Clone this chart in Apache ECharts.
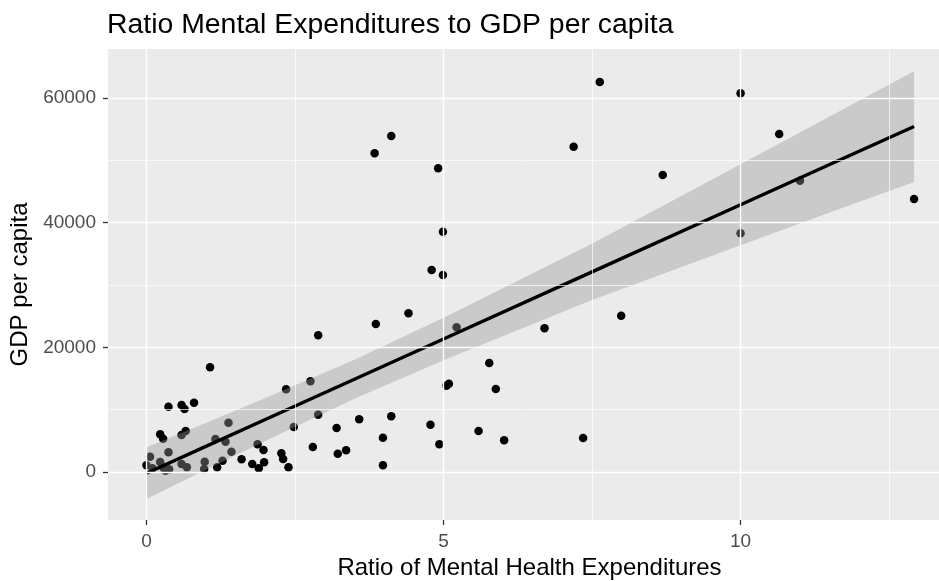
<!DOCTYPE html>
<html>
<head>
<meta charset="utf-8">
<script src="https://cdn.jsdelivr.net/npm/echarts@6/dist/echarts.min.js"></script>
<style>
  html, body { margin: 0; padding: 0; background: #ffffff; }
  #chart { width: 939px; height: 581px; }
</style>
</head>
<body>
<div id="chart"></div>
<script>
// Ratio of mental health expenditures (x) vs GDP per capita (y), one entry per country
const ratio = [
  0.00, 0.06, 0.10, 0.23, 0.28, 0.32, 0.38, 0.23, 0.28, 0.37,
  0.37, 0.59, 0.64, 0.80, 0.59, 0.66, 0.59, 0.68, 0.97, 0.98,
  1.07, 1.16, 1.19, 1.28, 1.33, 1.38, 1.43, 1.60, 1.78, 1.87,
  1.89, 1.97, 1.98, 2.27, 2.30, 2.35, 2.39, 2.48, 2.76, 2.80,
  2.89, 2.89, 3.20, 3.22, 3.36, 3.58, 3.84, 3.86, 3.98, 3.98,
  4.12, 4.12, 4.41, 4.78, 4.80, 4.91, 4.93, 4.99, 4.99, 5.05,
  5.09, 5.22, 5.59, 5.77, 5.88, 6.02, 6.70, 7.19, 7.35, 7.63,
  7.99, 8.69, 10.00, 10.00, 10.65, 11.00, 12.92
];
const gdp = [
  1100, 2460, 590, 1600, 750, 210, 430, 6050, 5340, 3160,
  10480, 10750, 10100, 11120, 5930, 6580, 1280, 750, 480, 1650,
  16790, 5290, 750, 1810, 4860, 7910, 3260, 2040, 1280, 4440,
  590, 3530, 1560, 3000, 2090, 13260, 750, 7220, 14550, 4010,
  21930, 9190, 7060, 2940, 3480, 8450, 51120, 23740, 5510, 1070,
  53890, 8930, 25450, 7590, 32400, 48710, 4440, 38550, 31600, 13850,
  14170, 23210, 6580, 17480, 13310, 5090, 23050, 52180, 5450, 62560,
  25070, 47640, 60740, 38290, 54220, 46730, 43790
];

// Linear fit with its 95% confidence band
const fitX     = [0, 1, 2, 3.5, 5, 7.5, 10, 11.5, 12.92];
const fitY     = [-200, 4110, 8410, 14870, 21330, 32100, 42860, 49320, 55430];
const fitUpper = [3950, 7860, 11860, 18010, 24730, 36600, 49360, 57020, 64300];
const fitLower = [-4350, 360, 4960, 11730, 17930, 27600, 36360, 41620, 46500];

// Axis breaks
const xMajor = [0, 5, 10];
const xMinor = [2.5, 7.5, 12.5];
const yMajor = [0, 20000, 40000, 60000];
const yMinor = [10000, 30000, 50000];

const points = ratio.map((x, i) => [x, gdp[i]]);
const fitLine = fitX.map((x, i) => [x, fitY[i]]);

const gridLines = [
  ...xMinor.map(v => ({ xAxis: v, lineStyle: { width: 0.7 } })),
  ...yMinor.map(v => ({ yAxis: v, lineStyle: { width: 0.7 } })),
  ...xMajor.map(v => ({ xAxis: v, lineStyle: { width: 1.4 } })),
  ...yMajor.map(v => ({ yAxis: v, lineStyle: { width: 1.4 } }))
];

const font = '"Liberation Sans", Arial, sans-serif';

const chart = echarts.init(document.getElementById('chart'), null, { renderer: 'canvas' });

chart.setOption({
  animation: false,
  backgroundColor: '#ffffff',
  title: {
    text: 'Ratio Mental Expenditures to GDP per capita',
    left: 107,
    top: 11,
    padding: 0,
    textStyle: { fontFamily: font, fontSize: 28.4, fontWeight: 'normal', color: '#000000' }
  },
  grid: {
    left: 108, top: 49, width: 831, height: 471,
    outerBoundsMode: 'none',
    containLabel: false,
    show: true, backgroundColor: '#EBEBEB', borderWidth: 0
  },
  xAxis: {
    type: 'value',
    min: -0.648, max: 13.34,
    name: 'Ratio of Mental Health Expenditures',
    nameLocation: 'middle',
    nameGap: 34,
    nameTextStyle: { fontFamily: font, fontSize: 24, color: '#000000', padding: [0, 0, 0, 12] },
    axisLine: { show: false, onZero: false },
    axisTick: { show: true, customValues: xMajor, length: 5, lineStyle: { color: '#333333', width: 1.3 } },
    axisLabel: { customValues: xMajor, margin: 12, fontFamily: font, fontSize: 19, color: '#4D4D4D',
                 formatter: v => String(v) },
    splitLine: { show: false }
  },
  yAxis: {
    type: 'value',
    min: -7700, max: 67850,
    name: 'GDP per capita',
    nameLocation: 'middle',
    nameGap: 72,
    nameRotate: 90,
    nameTextStyle: { fontFamily: font, fontSize: 24, color: '#000000' },
    axisLine: { show: false, onZero: false },
    axisTick: { show: true, customValues: yMajor, length: 5, lineStyle: { color: '#333333', width: 1.3 } },
    axisLabel: { customValues: yMajor, margin: 12, fontFamily: font, fontSize: 19, color: '#4D4D4D',
                 formatter: v => String(v) },
    splitLine: { show: false }
  },
  series: [
    {
      // panel grid lines
      type: 'line',
      data: [],
      z: 1,
      silent: true,
      markLine: {
        silent: true,
        symbol: ['none', 'none'],
        label: { show: false },
        lineStyle: { color: '#FFFFFF', type: 'solid' },
        emphasis: { disabled: true },
        data: gridLines
      }
    },
    {
      type: 'scatter',
      data: points,
      z: 2,
      symbol: 'circle',
      symbolSize: 8.5,
      itemStyle: { color: '#000000', opacity: 1 },
      silent: true
    },
    {
      // confidence band over the points
      type: 'custom',
      z: 3,
      silent: true,
      data: [0],
      renderItem: function (params, api) {
        const pts = [];
        for (let i = 0; i < fitX.length; i++) pts.push(api.coord([fitX[i], fitUpper[i]]));
        for (let i = fitX.length - 1; i >= 0; i--) pts.push(api.coord([fitX[i], fitLower[i]]));
        return {
          type: 'polygon',
          shape: { points: pts },
          style: { fill: 'rgba(153,153,153,0.4)', stroke: null }
        };
      }
    },
    {
      type: 'line',
      data: fitLine,
      z: 4,
      silent: true,
      showSymbol: false,
      lineStyle: { color: '#000000', width: 3.4 }
    }
  ]
});
</script>
</body>
</html>
